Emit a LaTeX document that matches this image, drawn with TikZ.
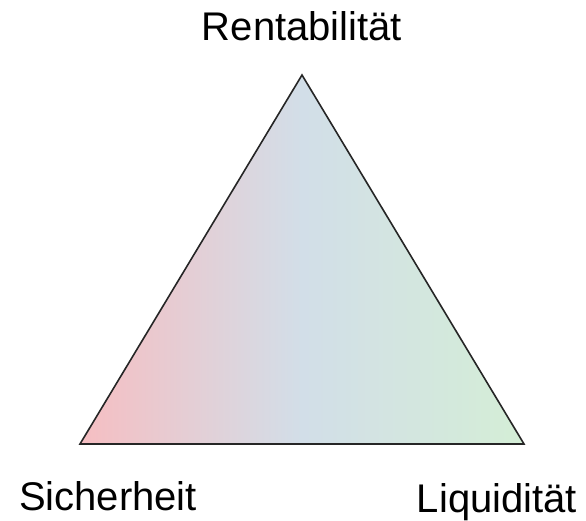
\documentclass[tikz,border=0pt]{standalone}
\usepackage{fontspec}
\setmainfont{Liberation Sans}
\usetikzlibrary{positioning, calc}

\begin{document}
\begin{tikzpicture}[
            x=1pt, y=-1pt,
            corner/.style={font=\fontsize{40}{48}\selectfont, inner sep=0pt},
            side/.style={draw=black!85, line width=1.6pt, line join=miter},
            grad/.style={left color={rgb,255:red,246;green,190;blue,194}, right color={rgb,255:red,212;green,238;blue,214}, middle color={rgb,255:red,210;green,222;blue,232}}
        ]

        \useasboundingbox (0,0) rectangle (586,520);

        % Ecken
        \coordinate (top) at (302,75);
        \coordinate (left) at (80,444);
        \coordinate (right) at (524,444);

        % Dreieck
        \shade[grad] (top) -- (left) -- (right) -- cycle;
        \draw[side] (top) -- (left) -- (right) -- cycle;

        % Beschriftung
        \node[corner, anchor=base] (rent) at (302,40) {Rentabilität};
        \node[corner, anchor=base] (sich) at (108,510) {Sicherheit};
        \node[corner, anchor=base] (liqu) at (497,512) {Liquidität};

    \end{tikzpicture}
\end{document}
